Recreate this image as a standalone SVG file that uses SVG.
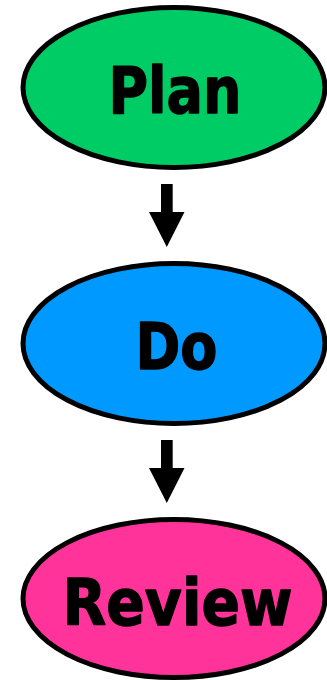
<svg xmlns="http://www.w3.org/2000/svg" width="327" height="680" viewBox="0 0 327 680">
<style>
.node ellipse{stroke:#000;stroke-width:5}
.node text{font-family:"DejaVu Sans","Verdana",sans-serif;font-weight:bold;font-size:64px;fill:#000;stroke:#000;stroke-width:1.4;stroke-linejoin:round;text-anchor:middle}
.arrow{fill:#000}
</style>
<rect width="327" height="680" fill="#fff"/>
<g id="plan" class="node">
<ellipse cx="174" cy="87.5" rx="151" ry="80" fill="#00CC66"/>
<text x="175" y="113" textLength="133" lengthAdjust="spacingAndGlyphs">Plan</text>
</g>
<g id="do" class="node">
<ellipse cx="174" cy="343.5" rx="151" ry="80" fill="#0099FF"/>
<text x="176.5" y="369" textLength="82" lengthAdjust="spacingAndGlyphs">Do</text>
</g>
<g id="review" class="node">
<ellipse cx="174" cy="598.5" rx="151" ry="79" fill="#FF3399"/>
<text x="177.5" y="625" textLength="230" lengthAdjust="spacingAndGlyphs">Review</text>
</g>
<g id="connectors">
<polygon class="arrow" points="161,184 172.7,184 172.7,212 184.5,212 166.8,247 149,212 161,212"/>
<polygon class="arrow" points="161,440 172.7,440 172.7,468 184.5,468 166.8,503 149,468 161,468"/>
</g>
</svg>
